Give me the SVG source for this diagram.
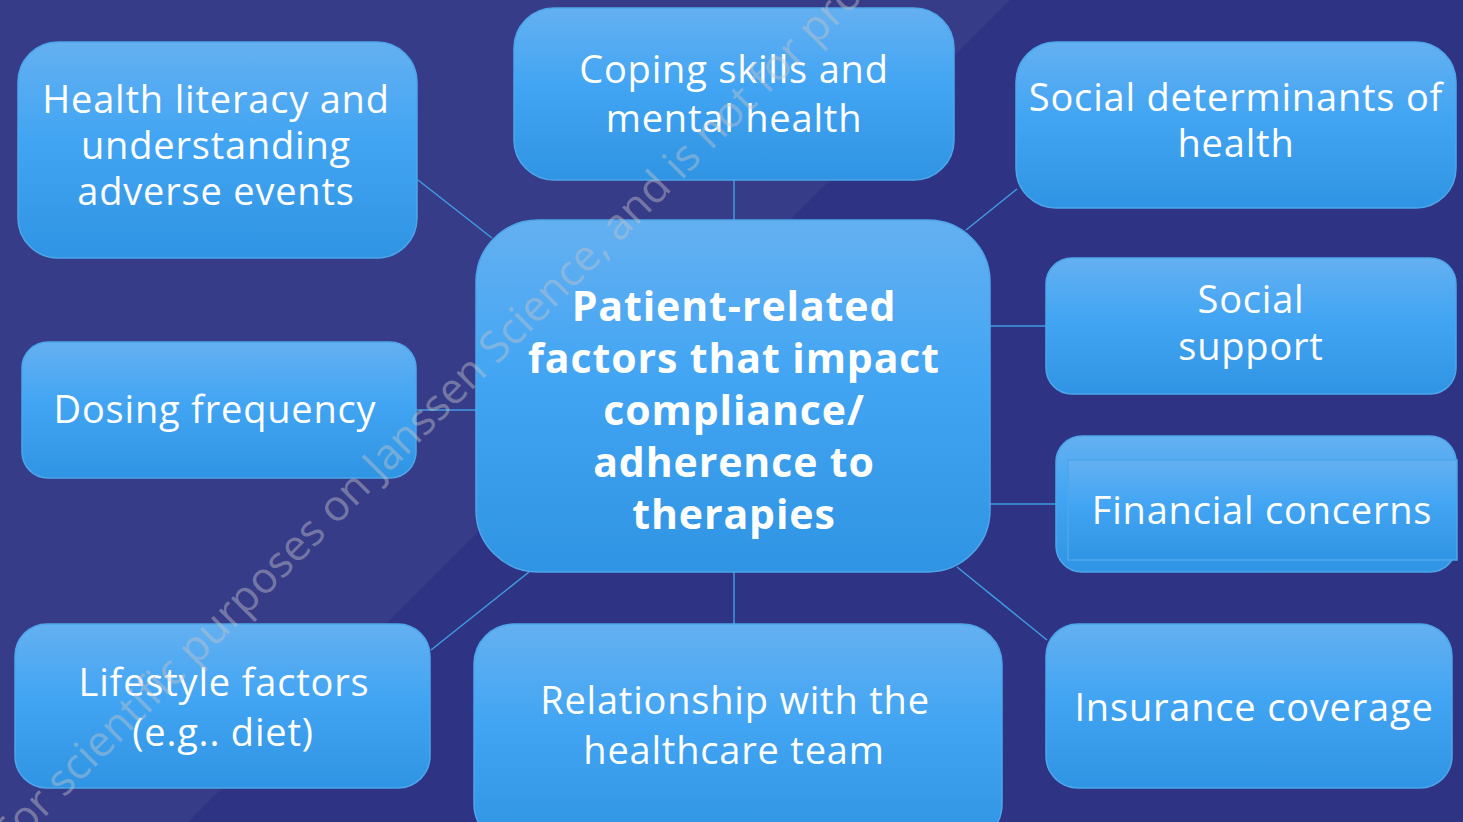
<svg xmlns="http://www.w3.org/2000/svg" width="1463" height="822" viewBox="0 0 1463 822">
  <defs>
    <linearGradient id="boxFill" x1="0" y1="0" x2="0" y2="1">
      <stop offset="0" stop-color="#64b0f1"/>
      <stop offset="0.45" stop-color="#42a5f3"/>
      <stop offset="1" stop-color="#2f94e3"/>
    </linearGradient>
    <style>
      .box { fill: url(#boxFill); stroke: #4ea6ea; stroke-width: 1.5; }
      .lbl { font-family: "Open Sans", "Noto Sans", sans-serif; font-size: 38px; letter-spacing: 0.8px; fill: #ffffff; text-anchor: middle; }
      .hub { font-family: "Open Sans", "Noto Sans", sans-serif; font-size: 41px; letter-spacing: 0.9px; font-weight: 700; fill: #ffffff; text-anchor: middle; }
      .link { stroke: #3f9be2; stroke-width: 1.5; fill: none; }
      .mark { font-family: "Open Sans", "Noto Sans", sans-serif; font-size: 43px; fill: #c4c4c8; fill-opacity: 0.45; }
    </style>
  </defs>

  <!-- backdrop -->
  <rect x="0" y="0" width="1463" height="822" fill="#2e3483"/>
  <polygon points="0,0 1010,0 0,1010" fill="#363c88"/>

  <!-- connectors -->
  <g id="connectors">
    <line class="link" x1="418" y1="180" x2="492" y2="238"/>
    <line class="link" x1="734" y1="180" x2="734" y2="221"/>
    <line class="link" x1="1017" y1="189" x2="966" y2="230"/>
    <line class="link" x1="416" y1="410" x2="477" y2="410"/>
    <line class="link" x1="990" y1="326" x2="1046" y2="326"/>
    <line class="link" x1="990" y1="504" x2="1056" y2="504"/>
    <line class="link" x1="431" y1="650" x2="529" y2="572"/>
    <line class="link" x1="734" y1="572" x2="734" y2="624"/>
    <line class="link" x1="1047" y1="640" x2="957" y2="567"/>
  </g>

  <!-- outer factors -->
  <g id="node-health-literacy">
    <rect class="box" x="18" y="42" width="399" height="216" rx="40"/>
    <text class="lbl" x="216" y="113">Health literacy and</text>
    <text class="lbl" x="216" y="159">understanding</text>
    <text class="lbl" x="216" y="205">adverse events</text>
  </g>

  <g id="node-coping">
    <rect class="box" x="514" y="8" width="440" height="172" rx="40"/>
    <text class="lbl" x="734" y="83">Coping skills and</text>
    <text class="lbl" x="734" y="132">mental health</text>
  </g>

  <g id="node-social-determinants">
    <rect class="box" x="1016" y="42" width="440" height="166" rx="40"/>
    <text class="lbl" x="1236" y="111">Social determinants of</text>
    <text class="lbl" x="1236" y="157">health</text>
  </g>

  <g id="node-dosing">
    <rect class="box" x="22" y="342" width="394" height="136" rx="26"/>
    <text class="lbl" x="215" y="423">Dosing frequency</text>
  </g>

  <g id="node-social-support">
    <rect class="box" x="1046" y="258" width="410" height="136" rx="26"/>
    <text class="lbl" x="1251" y="313">Social</text>
    <text class="lbl" x="1251" y="360">support</text>
  </g>

  <g id="node-financial">
    <rect class="box" x="1056" y="436" width="400" height="136" rx="26"/>
    <rect class="box" x="1068" y="460" width="389" height="100"/>
    <text class="lbl" x="1262" y="524">Financial concerns</text>
  </g>

  <g id="node-lifestyle">
    <rect class="box" x="15" y="624" width="415" height="164" rx="32"/>
    <text class="lbl" x="224" y="696">Lifestyle factors</text>
    <text class="lbl" x="223" y="746">(e.g.. diet)</text>
  </g>

  <g id="node-relationship">
    <rect class="box" x="474" y="624" width="528" height="220" rx="40"/>
    <text class="lbl" x="735" y="714">Relationship with the</text>
    <text class="lbl" x="734" y="764">healthcare team</text>
  </g>

  <g id="node-insurance">
    <rect class="box" x="1046" y="624" width="406" height="164" rx="32"/>
    <text class="lbl" x="1254" y="721">Insurance coverage</text>
  </g>

  <!-- central hub -->
  <g id="node-hub">
    <rect class="box" x="476" y="220" width="514" height="352" rx="62"/>
    <text class="hub" x="734" y="321">Patient-related</text>
    <text class="hub" x="734" y="373">factors that impact</text>
    <text class="hub" x="734" y="425">compliance/</text>
    <text class="hub" x="734" y="477">adherence to</text>
    <text class="hub" x="734" y="529">therapies</text>
  </g>

  <!-- diagonal watermark -->
  <text class="mark" transform="translate(9.5,852.5) rotate(-45)" x="0" y="0">For scientific purposes on Janssen Science, and is not for pro</text>
</svg>
